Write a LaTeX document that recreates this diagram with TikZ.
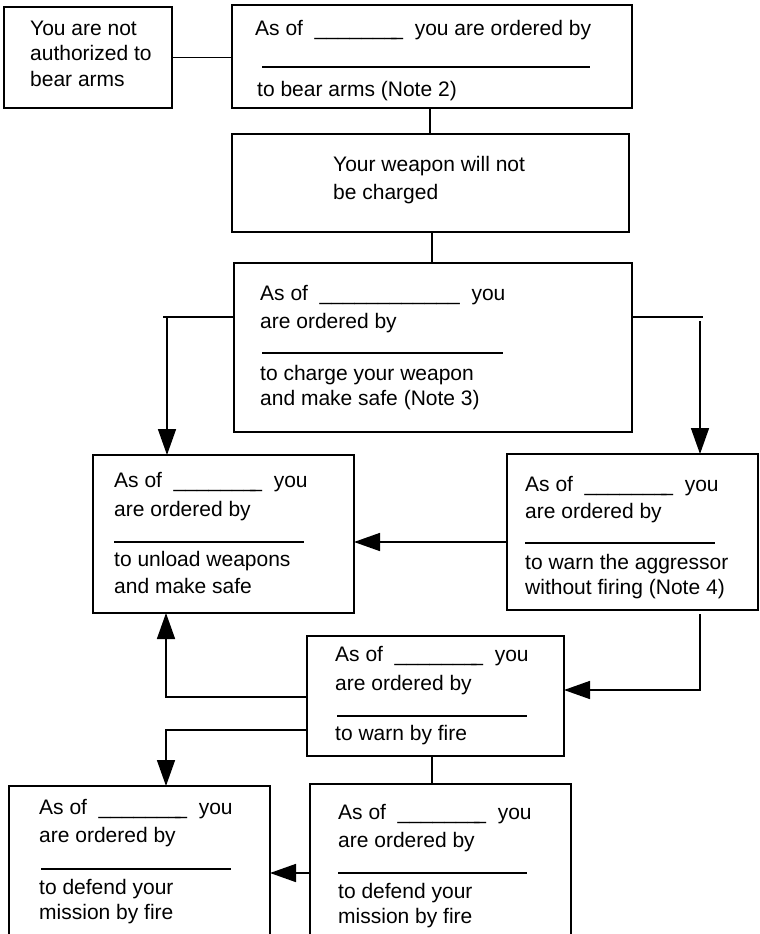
\documentclass[tikz,border=0pt]{standalone}
\usepackage{fontspec}
\setmainfont{Liberation Sans}
\usetikzlibrary{arrows.meta}
\newcommand\myblank{\_\_\_\_\_\_\_\kern-5pt\_}
\newcommand\myblankl{\_\_\_\_\_\_\_\_\_\_\_\_}
\tikzset{
  box/.style={draw, rectangle, line width=1.6pt, inner sep=0pt, outer sep=0pt},
  txt/.style={anchor=base west, inner sep=0pt, font=\fontsize{21}{25}\selectfont},
  conn/.style={line width=1.6pt},
  arr/.style={line width=1.6pt, -{Triangle[length=26pt,width=18pt]}},
  sig/.style={line width=1.5pt},
}
\begin{document}
\begin{tikzpicture}[x=1pt,y=-1pt]
\useasboundingbox (0,0) rectangle (760,934);
\fill[white] (0,0) rectangle (760,934);
\clip (0,0) rectangle (760,934);

% boxes
\node[box, minimum width=168pt, minimum height=101pt] (A) at (88,57.5) {};
\node[box, minimum width=400pt, minimum height=103pt] (B) at (432,56.5) {};
\node[box, minimum width=397pt, minimum height=98pt] (C) at (430.5,183) {};
\node[box, minimum width=398pt, minimum height=169pt] (D) at (433,347.5) {};
\node[box, minimum width=261pt, minimum height=158pt] (E) at (223.5,534) {};
\node[box, minimum width=251pt, minimum height=156pt] (F) at (632.5,532) {};
\node[box, minimum width=257pt, minimum height=120pt] (G) at (435.5,696) {};
\node[box, minimum width=261pt, minimum height=154pt] (H) at (139.5,863) {};
\node[box, minimum width=261pt, minimum height=156pt] (I) at (440.5,862) {};

% texts A
\node[txt] (a1) at (30,36) {You are not};
\node[txt] (a2) at (30,61) {authorized to};
\node[txt] (a3) at (30,86) {bear arms};
% B
\node[txt] (b1) at (255,36) {As of\ \ \myblank\ \ you are ordered by};
\draw[sig] (262,67) -- (590,67);
\node[txt] (b2) at (257,96) {to bear arms (Note 2)};
% C
\node[txt] (c1) at (333,171) {Your weapon will not};
\node[txt] (c2) at (333,199) {be charged};
% D
\node[txt] (d1) at (260,300) {As of\ \ \myblankl\ \ you};
\node[txt] (d2) at (260,328) {are ordered by};
\draw[sig] (262,353) -- (503,353);
\node[txt] (d3) at (260,380) {to charge your weapon};
\node[txt] (d4) at (260,405) {and make safe (Note 3)};
% E
\node[txt] (e1) at (114,487) {As of\ \ \myblank\ \ you};
\node[txt] (e2) at (114,516) {are ordered by};
\draw[sig] (114,542) -- (304,542);
\node[txt] (e3) at (114,566) {to unload weapons};
\node[txt] (e4) at (114,593) {and make safe};
% F
\node[txt] (f1) at (525,491) {As of\ \ \myblank\ \ you};
\node[txt] (f2) at (525,518) {are ordered by};
\draw[sig] (525,543) -- (715,543);
\node[txt] (f3) at (525,569) {to warn the aggressor};
\node[txt] (f4) at (525,594) {without firing (Note 4)};
% G
\node[txt] (g1) at (335,661) {As of\ \ \myblank\ \ you};
\node[txt] (g2) at (335,690) {are ordered by};
\draw[sig] (337,716) -- (527,716);
\node[txt] (g3) at (335,740) {to warn by fire};
% H
\node[txt] (h1) at (39,814) {As of\ \ \myblank\ \ you};
\node[txt] (h2) at (39,842) {are ordered by};
\draw[sig] (41,869) -- (231,869);
\node[txt] (h3) at (39,894) {to defend your};
\node[txt] (h4) at (39,919) {mission by fire};
% I
\node[txt] (i1) at (338,819) {As of\ \ \myblank\ \ you};
\node[txt] (i2) at (338,847) {are ordered by};
\draw[sig] (338,873) -- (527,873);
\node[txt] (i3) at (338,898) {to defend your};
\node[txt] (i4) at (338,923) {mission by fire};

% connectors
\coordinate (bc) at (430,0);
\coordinate (cd) at (432,0);
\coordinate (dl) at (163,317);
\coordinate (dlv) at (167,317);
\coordinate (dr) at (703,317);
\coordinate (drv) at (700,321);
\coordinate (fe) at (0,542);
\coordinate (fg) at (700,614);
\coordinate (fg2) at (700,690);
\coordinate (ge) at (166,697);
\coordinate (gh) at (166,730);
\coordinate (gi) at (432,0);
\coordinate (ih) at (0,873);

\draw[conn] (A.east) -- (A.east -| B.west);
\draw[conn] (B.south -| bc) -- (C.north -| bc);
\draw[conn] (C.south -| cd) -- (D.north -| cd);
\draw[conn] (D.west |- dl) -- (dl);
\draw[arr] (dlv) -- (E.north -| dlv);
\draw[conn] (D.east |- dr) -- (dr);
\draw[arr] (drv) -- (F.north -| drv);
\draw[arr] (F.west |- fe) -- (E.east |- fe);
\draw[arr] (fg) -- (fg2) -- (G.east |- fg2);
\draw[arr] (G.west |- ge) -- (ge) -- (E.south -| ge);
\draw[arr] (G.west |- gh) -- (gh) -- (H.north -| gh);
\draw[conn] (G.south -| gi) -- (I.north -| gi);
\draw[arr] (I.west |- ih) -- (H.east |- ih);
\end{tikzpicture}
\end{document}
